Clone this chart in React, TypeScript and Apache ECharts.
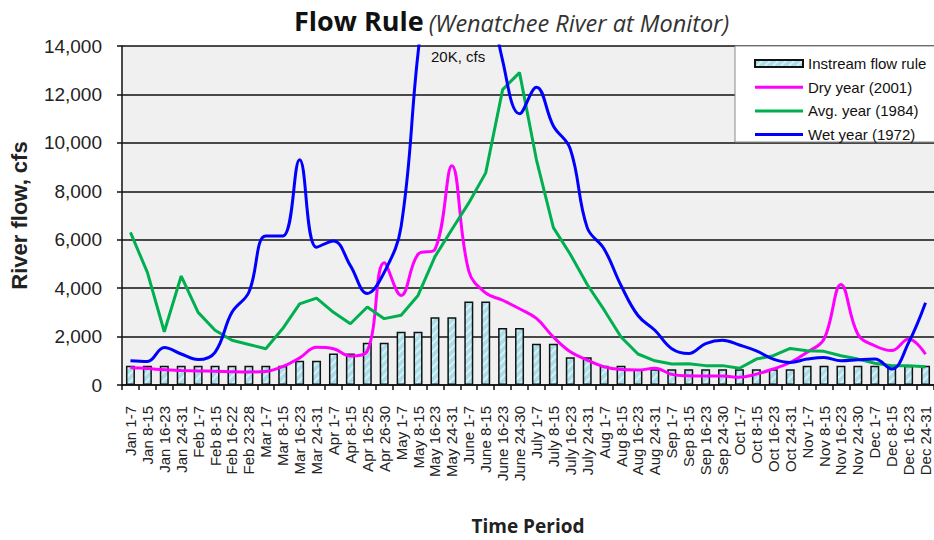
import React, { useEffect, useRef } from "react";
import * as echarts from "echarts";

const categories = [
  "Jan 1-7", "Jan 8-15", "Jan 16-23", "Jan 24-31",
  "Feb 1-7", "Feb 8-15", "Feb 16-22", "Feb 23-28",
  "Mar 1-7", "Mar 8-15", "Mar 16-23", "Mar 24-31",
  "Apr 1-7", "Apr 8-15", "Apr 16-25", "Apr 26-30",
  "May 1-7", "May 8-15", "May 16-23", "May 24-31",
  "June 1-7", "June 8-15", "June 16-23", "June 24-30",
  "July 1-7", "July 8-15", "July 16-23", "July 24-31",
  "Aug 1-7", "Aug 8-15", "Aug 16-23", "Aug 24-31",
  "Sep 1-7", "Sep 8-15", "Sep 16-23", "Sep 24-30",
  "Oct 1-7", "Oct 8-15", "Oct 16-23", "Oct 24-31",
  "Nov 1-7", "Nov 8-15", "Nov 16-23", "Nov 24-30",
  "Dec 1-7", "Dec 8-15", "Dec 16-23", "Dec 24-31",
];

const instreamFlowRule = [
  800, 800, 800, 800, 800, 800, 800, 800, 800, 800,
  1000, 1000, 1300, 1300, 1750, 1750, 2200, 2200, 2800, 2800,
  3450, 3450, 2350, 2350, 1700, 1700, 1150, 1150, 800, 800,
  650, 650, 650, 650, 650, 650, 650, 650, 650, 650,
  800, 800, 800, 800, 800, 800, 800, 800,
];

const dryYear2001 = [
  710, 680, 630, 600, 580, 570, 550, 540, 560, 760,
  1120, 1560, 1500, 1200, 1400, 5050, 3700, 5400, 5600, 9050,
  4700, 3800, 3500, 3150, 2750, 1980, 1370, 1030, 750, 640,
  620, 690, 440, 380, 370, 370, 320, 450, 660, 930,
  1350, 1900, 4150, 2100, 1620, 1420, 1900, 1270,
];

const avgYear1984 = [
  6300, 4650, 2200, 4500, 3000, 2260, 1850, 1670, 1500, 2330,
  3350, 3590, 3000, 2530, 3220, 2740, 2880, 3700, 5300, 6420,
  7520, 8760, 12200, 12900, 9300, 6500, 5400, 4150, 3100, 1980,
  1280, 1000, 870, 880, 800, 800, 690, 1070, 1210, 1510,
  1410, 1390, 1210, 1070, 900, 800, 790, 750,
];

const wetYear1972 = [
  1000, 970, 1550, 1280, 1050, 1350, 3000, 3830, 6150, 6150,
  9300, 5690, 5950, 4930, 3780, 4650, 6550, 13700, 19000, 20000,
  19500, 17000, 13400, 11200, 12300, 10700, 9750, 6500, 5620, 4110,
  2870, 2260, 1500, 1300, 1710, 1850, 1650, 1410, 1070, 930,
  1070, 1140, 1000, 1040, 1070, 660, 1750, 3400,
];

const yTicks = [0, 2000, 4000, 6000, 8000, 10000, 12000, 14000];

const LINE_ICON = "path://M0,0L16,0L16,1L0,1Z";

function makeHatch() {
  const c = document.createElement("canvas");
  c.width = 8;
  c.height = 8;
  const ctx = c.getContext("2d");
  if (ctx) {
    ctx.fillStyle = "#A8DDE9";
    ctx.fillRect(0, 0, 8, 8);
    ctx.strokeStyle = "rgba(255,255,255,0.55)";
    ctx.lineWidth = 2;
    ctx.beginPath();
    ctx.moveTo(0, 8);
    ctx.lineTo(8, 0);
    ctx.moveTo(-2, 2);
    ctx.lineTo(2, -2);
    ctx.moveTo(6, 10);
    ctx.lineTo(10, 6);
    ctx.stroke();
  }
  return c;
}

export default function App() {
  const ref = useRef<HTMLDivElement>(null);

  useEffect(() => {
    if (!ref.current) return;
    const chart = echarts.init(ref.current, undefined, { renderer: "svg" });
    const hatch = makeHatch();
    const lineBase = {
      type: "line" as const,
      symbol: "none",
      showSymbol: false,
      clip: true,
      z: 3,
    };
    chart.setOption({
      animation: false,
      backgroundColor: "#ffffff",
      title: {
        left: 289,
        top: 2,
        text: "{a|Flow Rule} {b|(Wenatchee River at Monitor)}",
        textStyle: {
          fontWeight: "normal",
          rich: {
            a: {
              fontFamily: "Open Sans",
              fontWeight: "bold",
              fontSize: 27,
              color: "#111",
            },
            b: {
              fontFamily: "Open Sans",
              fontStyle: "italic",
              fontWeight: "normal",
              fontSize: 23.5,
              color: "#333",
              padding: [4, 0, 0, 0],
            },
          },
        },
      },
      grid: {
        left: 121,
        right: -3,
        top: 46,
        bottom: 154,
        show: true,
        backgroundColor: "#F0F0F0",
        borderWidth: 0,
      },
      legend: {
        orient: "vertical",
        left: 749,
        top: 51,
        itemWidth: 48,
        itemHeight: 7,
        itemGap: 8.7,
        symbolKeepAspect: true,
        textStyle: {
          fontFamily: "Liberation Sans, Arial",
          fontSize: 15,
          lineHeight: 15,
          color: "#111",
        },
        data: [
          { name: "Instream flow rule", icon: "rect" },
          { name: "Dry year (2001)", icon: LINE_ICON },
          { name: "Avg. year (1984)", icon: LINE_ICON },
          { name: "Wet year (1972)", icon: LINE_ICON },
        ],
        z: 10,
      },
      graphic: [
        {
          type: "rect",
          z: 8,
          shape: { x: 735, y: 46, width: 210, height: 96 },
          style: { fill: "#ffffff", stroke: "#8a8a8a", lineWidth: 1 },
        },
        {
          type: "text",
          z: 8,
          left: 431,
          top: 49,
          style: {
            text: "20K, cfs",
            font: "15px 'Liberation Sans', Arial",
            fill: "#111",
          },
        },
      ],
      xAxis: {
        type: "category",
        data: categories,
        boundaryGap: true,
        name: "Time Period",
        nameLocation: "middle",
        nameGap: 131,
        nameTextStyle: {
          fontFamily: "Open Sans",
          fontWeight: "bold",
          fontSize: 19,
          color: "#222",
        },
        axisLine: { show: true, lineStyle: { color: "#111", width: 1.5 } },
        axisTick: {
          show: true,
          interval: 0,
          length: 5,
          lineStyle: { color: "#111", width: 1.5 },
        },
        axisLabel: {
          interval: 0,
          rotate: 90,
          margin: 21,
          fontFamily: "Liberation Sans, Arial",
          fontSize: 15,
          color: "#222",
        },
        splitLine: { show: false },
      },
      yAxis: {
        type: "value",
        min: yTicks[0],
        max: yTicks[yTicks.length - 1],
        interval: 2000,
        name: "River flow, cfs",
        nameLocation: "middle",
        nameGap: 92,
        nameRotate: 90,
        nameTextStyle: {
          fontFamily: "Liberation Sans, Arial",
          fontWeight: "bold",
          fontSize: 22,
          color: "#222",
        },
        axisLine: { show: true, lineStyle: { color: "#111", width: 1.5 } },
        axisTick: {
          show: true,
          length: 5,
          lineStyle: { color: "#111", width: 1.5 },
        },
        axisLabel: {
          margin: 20,
          fontFamily: "Liberation Sans, Arial",
          fontSize: 19,
          color: "#222",
          formatter: (v: number) => v.toLocaleString("en-US"),
        },
        splitLine: { show: true, lineStyle: { color: "#111", width: 1.5 } },
      },
      series: [
        {
          name: "Instream flow rule",
          type: "bar",
          data: instreamFlowRule,
          barWidth: 9,
          z: 2,
          itemStyle: {
            color: { image: hatch, repeat: "repeat" },
            borderColor: "#111",
            borderWidth: 1.5,
          },
        },
        {
          ...lineBase,
          name: "Dry year (2001)",
          data: dryYear2001,
          smooth: 0.4,
          lineStyle: { color: "#FF00FF", width: 3 },
          itemStyle: { color: "#FF00FF" },
        },
        {
          ...lineBase,
          name: "Avg. year (1984)",
          data: avgYear1984,
          smooth: false,
          lineStyle: { color: "#00B050", width: 3 },
          itemStyle: { color: "#00B050" },
        },
        {
          ...lineBase,
          name: "Wet year (1972)",
          data: wetYear1972,
          smooth: 0.4,
          lineStyle: { color: "#0000FF", width: 3 },
          itemStyle: { color: "#0000FF" },
        },
      ],
    });
    return () => {
      chart.dispose();
    };
  }, []);

  return (
    <div
      ref={ref}
      style={{ position: "fixed", left: 0, top: 0, width: 934, height: 540 }}
    />
  );
}
